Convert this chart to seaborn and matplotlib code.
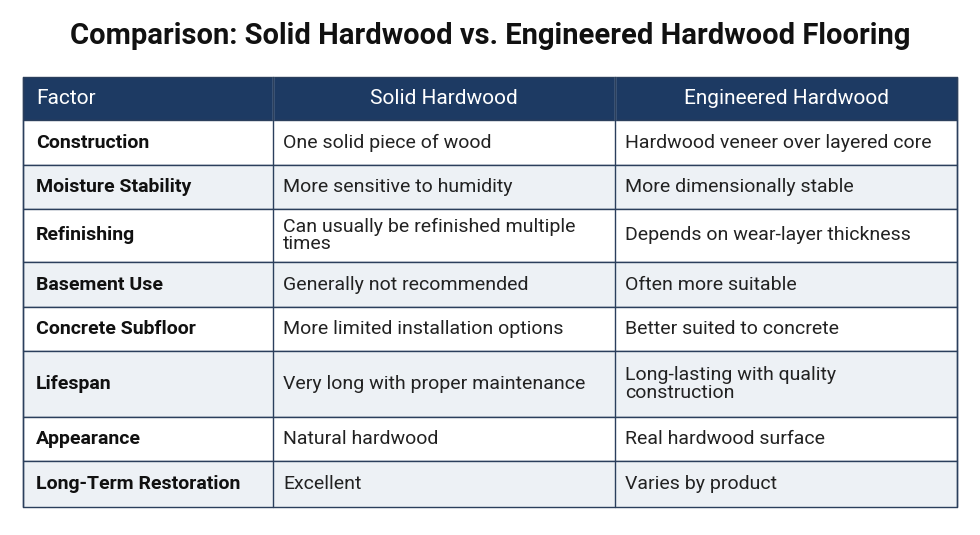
import matplotlib.pyplot as plt
import seaborn as sns

title = "Comparison: Solid Hardwood vs. Engineered Hardwood Flooring"
headers = ["Factor", "Solid Hardwood", "Engineered Hardwood"]
factors = ["Construction", "Moisture Stability", "Refinishing", "Basement Use",
           "Concrete Subfloor", "Lifespan", "Appearance", "Long-Term Restoration"]
solid = ["One solid piece of wood", "More sensitive to humidity",
         "Can usually be refinished multiple\ntimes", "Generally not recommended",
         "More limited installation options", "Very long with proper maintenance",
         "Natural hardwood", "Excellent"]
engineered = ["Hardwood veneer over layered core", "More dimensionally stable",
              "Depends on wear-layer thickness", "Often more suitable",
              "Better suited to concrete", "Long-lasting with quality\nconstruction",
              "Real hardwood surface", "Varies by product"]

# layout (pixels)
col_edges = [23, 273, 615, 957]
header_top, header_h = 77, 43
row_heights = [45, 44, 53, 45, 44, 66, 44, 46]
NAVY = "#1d3a63"
STRIPE = "#edf1f5"
GRID = "#2b3f5c"

sns.set_theme(style="white")
plt.rcParams["font.family"] = ["Roboto", "DejaVu Sans"]

fig = plt.figure(figsize=(9.8, 5.35), dpi=100)
ax = fig.add_axes([0, 0, 1, 1])
ax.set_xlim(0, 980)
ax.set_ylim(535, 0)
ax.axis("off")

ax.text(490, 36, title, ha="center", va="center", fontsize=21, fontweight="bold", color="#111111")

# header
ax.add_patch(plt.Rectangle((col_edges[0], header_top), col_edges[-1] - col_edges[0], header_h,
                           facecolor=NAVY, edgecolor=GRID, lw=1))
for i, h in enumerate(headers):
    if i == 0:
        ax.text(col_edges[0] + 13, header_top + header_h / 2, h, ha="left", va="center",
                fontsize=15, color="white")
    else:
        ax.text((col_edges[i] + col_edges[i + 1]) / 2, header_top + header_h / 2, h,
                ha="center", va="center", fontsize=15, color="white")
for x in col_edges[1:-1]:
    ax.plot([x, x], [header_top, header_top + header_h], color="#c9d3e0", lw=1)

y = header_top + header_h
for r, (f, s, e) in enumerate(zip(factors, solid, engineered)):
    h = row_heights[r]
    fc = STRIPE if r % 2 == 1 else "white"
    ax.add_patch(plt.Rectangle((col_edges[0], y), col_edges[-1] - col_edges[0], h,
                               facecolor=fc, edgecolor=GRID, lw=1))
    cy = y + h / 2
    ax.text(col_edges[0] + 13, cy, f, ha="left", va="center", fontsize=14,
            fontweight="bold", color="#111111")
    ax.text(col_edges[1] + 10, cy, s, ha="left", va="center", fontsize=14,
            color="#222222", linespacing=0.95)
    ax.text(col_edges[2] + 10, cy, e, ha="left", va="center", fontsize=14,
            color="#222222", linespacing=0.95)
    y += h

for x in col_edges:
    ax.plot([x, x], [header_top, y], color=GRID, lw=1)

fig.savefig("out.png", dpi=100)
